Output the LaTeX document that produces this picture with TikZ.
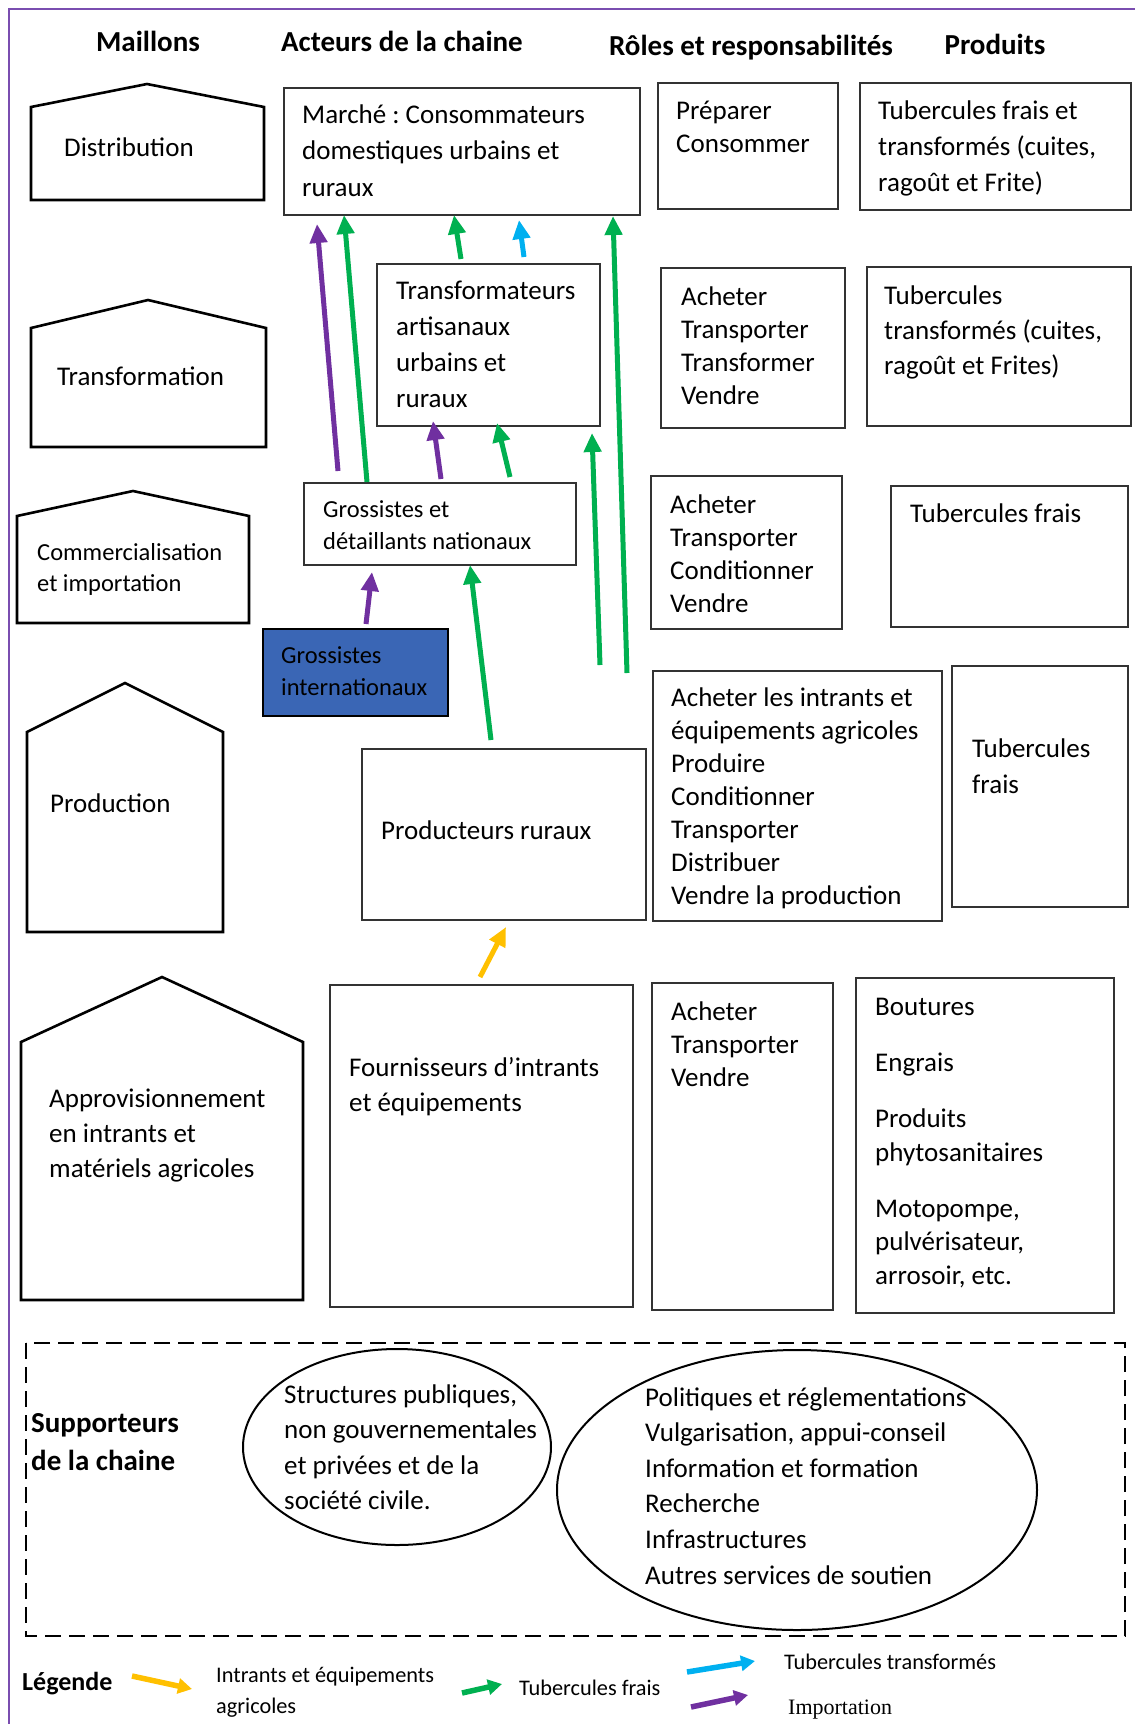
\documentclass[tikz,border=0pt]{standalone}
\usepackage{fontspec}
\setmainfont{Carlito}
\newfontfamily\timesf{Liberation Serif}
\usetikzlibrary{arrows.meta}
\frenchspacing
\definecolor{ipurple}{HTML}{7030A0}
\definecolor{igreen}{HTML}{00B050}
\definecolor{iblue}{HTML}{00B0F0}
\definecolor{iyellow}{HTML}{FFC000}
\definecolor{boxblue}{HTML}{3A66B5}
\definecolor{framepurple}{HTML}{7A4DB0}
\tikzset{
  house/.style={draw=black, line width=2.6pt, line join=miter},
  box/.style={draw=black!80, line width=1.4pt, inner sep=0pt, outer sep=0pt, anchor=north west},
  txt/.style={anchor=base west, align=left, inner sep=0pt, font=\fontsize{27}{36}\selectfont},
  txtr/.style={anchor=base west, align=left, inner sep=0pt, font=\fontsize{27}{33}\selectfont},
  txts/.style={anchor=base west, align=left, inner sep=0pt, font=\fontsize{24.5}{31.5}\selectfont},
  hdr/.style={anchor=base, inner sep=0pt, font=\fontsize{29}{36}\selectfont\bfseries},
  leg/.style={anchor=base west, align=left, inner sep=0pt, font=\fontsize{22.3}{31}\selectfont},
  flow/.style={line width=5pt, -{Triangle[width=17pt,length=19pt]}},
  legflow/.style={line width=5.5pt, -{Triangle[width=15pt,length=14pt]}},
  ell/.style={draw=black, line width=2pt},
}
% note: multi-line nodes are placed by the baseline of their LAST line
\begin{document}
\begin{tikzpicture}[x=1pt,y=-1pt]
\useasboundingbox (0,0) rectangle (1135,1724);
% frame
\draw[framepurple, line width=2.5pt] (9,1724) -- (9,9) -- (1135,9);

% headers
\node[hdr] (h1) at (148,51) {Maillons};
\node[hdr] (h2) at (402,51) {Acteurs de la chaine};
\node[hdr] (h3) at (751,55) {Rôles et responsabilités};
\node[hdr] (h4) at (995,54) {Produits};

% houses (maillons)
\draw[house] (31,200) -- (31,107) -- (147,84) -- (264,107) -- (264,200) -- cycle;
\node[txt] (m1) at (64,156) {Distribution};
\draw[house] (31,447) -- (31,328) -- (148,300) -- (266,328) -- (266,447) -- cycle;
\node[txt] (m2) at (57,385) {Transformation};
\draw[house] (17,623) -- (17,516) -- (133,491) -- (249,516) -- (249,623) -- cycle;
\node[txts] (m3) at (37,591.5) {Commercialisation\\et importation};
\draw[house] (27,932) -- (27,732) -- (125,683) -- (223,732) -- (223,932) -- cycle;
\node[txt] (m4) at (50,812) {Production};
\draw[house] (21,1300) -- (21,1042) -- (162,977) -- (303,1042) -- (303,1300) -- cycle;
\node[txt, font=\fontsize{27}{35}\selectfont] (m5) at (49,1177) {Approvisionnement\\en intrants et\\matériels agricoles};

% acteurs
\node[box, minimum width=356pt, minimum height=127pt] (marche) at (284,88) {};
\node[txt, font=\fontsize{27}{36.5}\selectfont] (marchet) at (302,196) {Marché : Consommateurs\\domestiques urbains et\\ruraux};
\node[box, minimum width=223pt, minimum height=162pt] (transfo) at (377,264) {};
\node[txt, font=\fontsize{27}{35.7}\selectfont] (transfot) at (396,407) {Transformateurs\\artisanaux\\urbains et\\ruraux};
\node[box, minimum width=272pt, minimum height=82pt] (gros) at (304,483) {};
\node[txts, font=\fontsize{24.5}{32}\selectfont] (grost) at (323,549) {Grossistes et\\détaillants nationaux};
\node[box, fill=boxblue, draw=black, minimum width=185pt, minimum height=87pt] (grosint) at (263,629) {};
\node[txts, font=\fontsize{24.5}{32}\selectfont] (grosintt) at (281,695) {Grossistes\\internationaux};
\node[box, minimum width=284pt, minimum height=171pt] (prod) at (362,749) {};
\node[txt] (prodt) at (381,839) {Producteurs ruraux};
\node[box, minimum width=303pt, minimum height=322pt] (fourn) at (330,985) {};
\node[txt, font=\fontsize{27}{35}\selectfont] (fournt) at (349,1111) {Fournisseurs d’intrants\\et équipements};

% roles
\node[box, minimum width=180pt, minimum height=126pt] (r1) at (658,83) {};
\node[txtr] (r1t) at (676,152) {Préparer\\Consommer};
\node[box, minimum width=184pt, minimum height=160pt] (r2) at (661,268) {};
\node[txtr] (r2t) at (681,404) {Acheter\\Transporter\\Transformer\\Vendre};
\node[box, minimum width=191pt, minimum height=153pt] (r3) at (651,476) {};
\node[txtr] (r3t) at (670,612) {Acheter\\Transporter\\Conditionner\\Vendre};
\node[box, minimum width=289pt, minimum height=250pt] (r4) at (653,671) {};
\node[txtr] (r4t) at (671,904) {Acheter les intrants et\\équipements agricoles\\Produire\\Conditionner\\Transporter\\Distribuer\\Vendre la production};
\node[box, minimum width=181pt, minimum height=327pt] (r5) at (652,983) {};
\node[txtr] (r5t) at (671,1086) {Acheter\\Transporter\\Vendre};

% produits
\node[box, minimum width=271pt, minimum height=127pt] (p1) at (860,83) {};
\node[txt] (p1t) at (878,191) {Tubercules frais et\\transformés (cuites,\\ragoût et Frite)};
\node[box, minimum width=264pt, minimum height=159pt] (p2) at (867,267) {};
\node[txt, font=\fontsize{27}{35}\selectfont] (p2t) at (884,374) {Tubercules\\transformés (cuites,\\ragoût et Frites)};
\node[box, minimum width=237pt, minimum height=141pt] (p3) at (891,486) {};
\node[txt] (p3t) at (910,522) {Tubercules frais};
\node[box, minimum width=176pt, minimum height=241pt] (p4) at (952,666) {};
\node[txt] (p4t) at (972,793) {Tubercules\\frais};
\node[box, minimum width=258pt, minimum height=335pt] (p5) at (856,978) {};
\node[txt, font=\fontsize{27}{33.5}\selectfont] (p5t) at (875,1284) {Boutures\\[22.5pt]Engrais\\[22.5pt]Produits\\phytosanitaires\\[22.5pt]Motopompe,\\pulvérisateur,\\arrosoir, etc.};

% flows
\coordinate (a1s) at (338,471); \coordinate (a1e) at (317,224);
\coordinate (a2s) at (367,482); \coordinate (a2e) at (344,215);
\coordinate (a3s) at (461,259); \coordinate (a3e) at (454,215);
\coordinate (a4s) at (524,257); \coordinate (a4e) at (519,220);
\coordinate (a5s) at (627,673); \coordinate (a5e) at (613,216);
\coordinate (a6s) at (600,665); \coordinate (a6e) at (592,433);
\coordinate (a7s) at (441,479); \coordinate (a7e) at (433,421);
\coordinate (a8s) at (510,477); \coordinate (a8e) at (497,423);
\coordinate (a9s) at (366,624); \coordinate (a9e) at (372,572);
\coordinate (a10s) at (491,740); \coordinate (a10e) at (470,565);
\coordinate (a11s) at (480,977); \coordinate (a11e) at (506,927);
\draw[flow, ipurple] (a1s) -- (a1e);
\draw[flow, igreen] (a2s) -- (a2e);
\draw[flow, igreen] (a3s) -- (a3e);
\draw[flow, iblue] (a4s) -- (a4e);
\draw[flow, igreen] (a5s) -- (a5e);
\draw[flow, igreen] (a6s) -- (a6e);
\draw[flow, ipurple] (a7s) -- (a7e);
\draw[flow, igreen] (a8s) -- (a8e);
\draw[flow, ipurple] (a9s) -- (a9e);
\draw[flow, igreen] (a10s) -- (a10e);
\draw[flow, iyellow] (a11s) -- (a11e);

% supporters
\draw[line width=2.8pt, dash pattern=on 16pt off 8pt] (26,1343) rectangle (1125,1636);
\node[txt, font=\fontsize{29}{38}\selectfont\bfseries] (supt) at (31,1470) {Supporteurs\\de la chaine};
\draw[ell] (397,1447) ellipse [x radius=154, y radius=98];
\node[txt, font=\fontsize{27}{35.5}\selectfont] (e1t) at (284,1509.5) {Structures publiques,\\non gouvernementales\\et privées et de la\\société civile.};
\draw[ell] (797,1490) ellipse [x radius=240, y radius=140];
\node[txt, font=\fontsize{27}{35.6}\selectfont] (e2t) at (645,1584) {Politiques et réglementations\\Vulgarisation, appui-conseil\\Information et formation\\Recherche\\Infrastructures\\Autres services de soutien};

% legend
\node[txt, font=\fontsize{26}{30}\selectfont\bfseries] (legt) at (22,1690) {Légende};
\coordinate (l1s) at (132,1676); \coordinate (l1e) at (192,1689);
\draw[legflow, iyellow] (l1s) -- (l1e);
\node[leg] (l1t) at (216,1713) {Intrants et équipements\\agricoles};
\coordinate (l2s) at (462,1693); \coordinate (l2e) at (502,1684);
\draw[legflow, igreen] (l2s) -- (l2e);
\node[leg] (l2t) at (519,1695) {Tubercules frais};
\coordinate (l3s) at (687,1672); \coordinate (l3e) at (755,1661);
\draw[legflow, iblue] (l3s) -- (l3e);
\node[leg] (l3t) at (784,1669) {Tubercules transformés};
\coordinate (l4s) at (691,1707); \coordinate (l4e) at (748,1695);
\draw[legflow, ipurple] (l4s) -- (l4e);
\node[leg, font=\fontsize{22}{26}\timesf] (l4t) at (788,1714) {Importation};
\end{tikzpicture}
\end{document}
